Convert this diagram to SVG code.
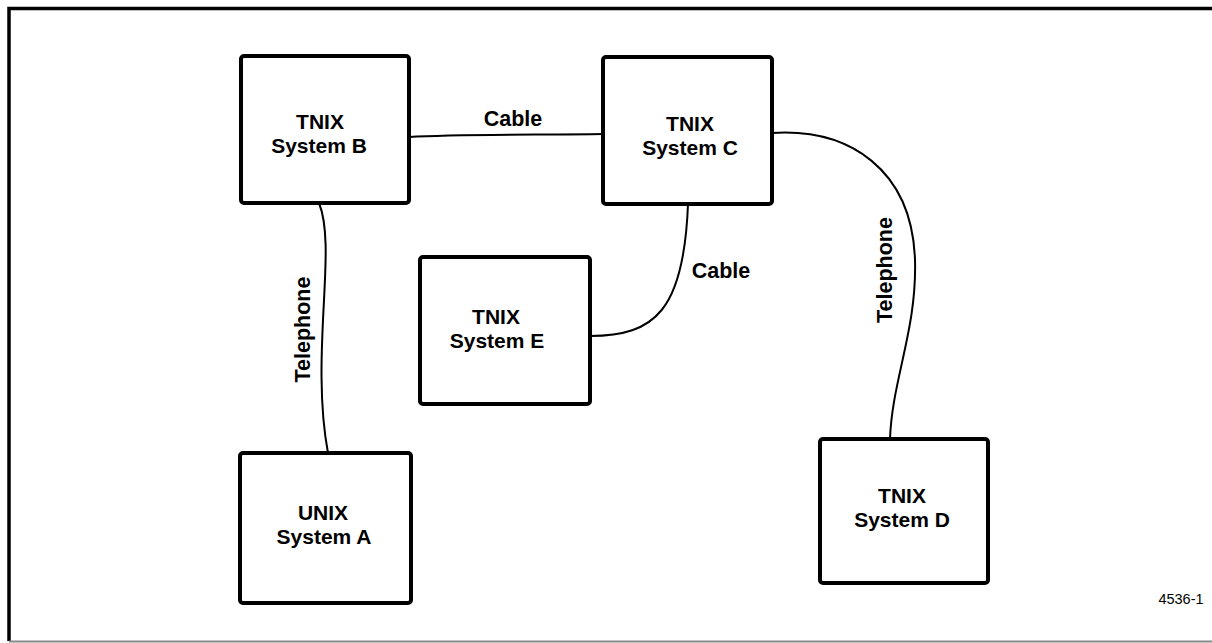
<svg xmlns="http://www.w3.org/2000/svg" width="1212" height="643" viewBox="0 0 1212 643">
<style>
.box{fill:#fff;stroke:#000;stroke-width:4;}
.lbl{font-family:"Liberation Sans",Arial,sans-serif;font-weight:bold;font-size:21.5px;fill:#000;text-anchor:middle;}
.nl{font-family:"Liberation Sans",Arial,sans-serif;font-weight:bold;font-size:21px;fill:#000;text-anchor:middle;}
.wire{fill:none;stroke:#000;stroke-width:2;}
.frame{fill:none;stroke:#000;stroke-width:3.5;}
</style>
<rect width="1212" height="643" fill="#fff"/>
<g id="frame">
<path class="frame" d="M1212,8.5 H9 V641"/>
<path d="M9,641.5 H1212" fill="none" stroke="#888" stroke-width="2"/>
</g>
<g id="connectors">
<path class="wire" d="M409,137 C460,134 540,135 603,134"/>
<path class="wire" d="M319,203 C328,225 326,262 324,300 C322,340 318,400 328,453"/>
<path class="wire" d="M688,204 C684,310 655,336 590,336"/>
<path class="wire" d="M772,133 C850,128 912,170 915,260 C917,330 892,380 890,439"/>
</g>
<g id="labels">
<text class="lbl" x="513" y="126">Cable</text>
<text class="lbl" x="721" y="278">Cable</text>
<text class="lbl" transform="translate(310,329.5) rotate(-90)" x="0" y="0">Telephone</text>
<text class="lbl" transform="translate(892,270) rotate(-90)" x="0" y="0">Telephone</text>
</g>
<g id="nodeB">
<rect class="box" x="241" y="56" width="168" height="147" rx="3"/>
<text class="nl"><tspan x="320" y="129.2">TNIX</tspan><tspan x="319" y="152.8">System B</tspan></text>
</g>
<g id="nodeC">
<rect class="box" x="603" y="57" width="169" height="147" rx="3"/>
<text class="nl"><tspan x="690" y="131.2">TNIX</tspan><tspan x="690" y="154.8">System C</tspan></text>
</g>
<g id="nodeE">
<rect class="box" x="420" y="257" width="170" height="147" rx="3"/>
<text class="nl"><tspan x="496" y="324.2">TNIX</tspan><tspan x="497" y="347.8">System E</tspan></text>
</g>
<g id="nodeA">
<rect class="box" x="240" y="453" width="171" height="150" rx="3"/>
<text class="nl"><tspan x="323" y="520.2">UNIX</tspan><tspan x="324" y="543.8">System A</tspan></text>
</g>
<g id="nodeD">
<rect class="box" x="820" y="439" width="168" height="144" rx="3"/>
<text class="nl"><tspan x="902" y="503.2">TNIX</tspan><tspan x="902" y="526.8">System D</tspan></text>
</g>
<text x="1181" y="604" font-family="Liberation Sans,Arial,sans-serif" font-size="14.5" text-anchor="middle" fill="#000">4536-1</text>
</svg>
